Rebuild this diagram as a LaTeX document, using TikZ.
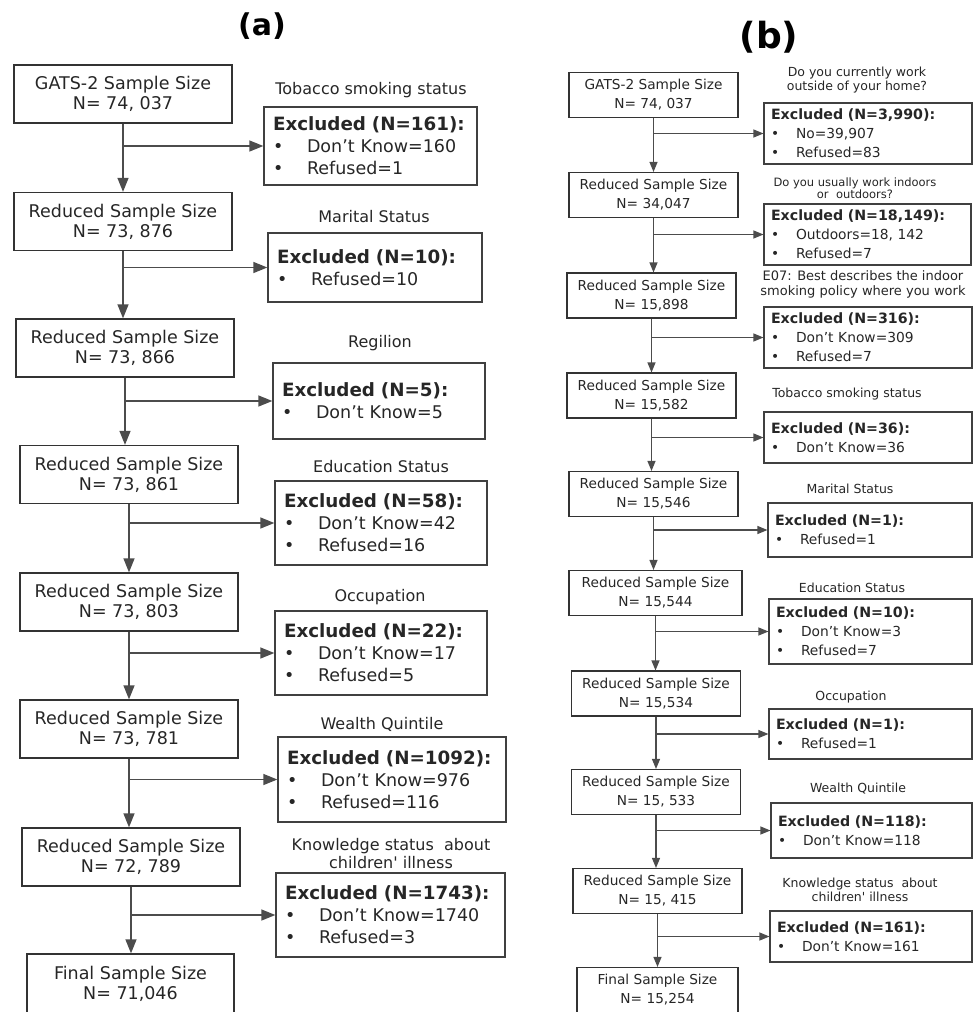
\documentclass[tikz,border=0pt]{standalone}
\usepackage{fontspec}
\setmainfont{DejaVu Sans}
\usetikzlibrary{arrows.meta}

\newcommand{\exheadA}[1]{{\fontsize{18.3}{22}\selectfont\bfseries #1}}
\newcommand{\exheadB}[1]{{\fontsize{14.2}{19}\selectfont\bfseries #1}}

\begin{document}
\begin{tikzpicture}[x=1pt, y=-1pt,
    mainA/.style={draw=black!80, line width=1.3pt, text=black!85, align=center, inner sep=0pt,
      minimum width=218pt, minimum height=58pt, font=\fontsize{17.5}{20}\selectfont},
    exclA/.style={draw=black!75, line width=1.3pt, text=black!85, align=left, inner xsep=9pt, inner ysep=0pt,
      font=\fontsize{17.5}{22}\selectfont},
    noteA/.style={text=black!85, align=center, inner sep=0pt, font=\fontsize{16}{18}\selectfont},
    arrA/.style={draw=black!70, line width=1.3pt, -{Triangle[length=14pt,width=11pt]}},
    mainB/.style={draw=black!80, line width=1.1pt, text=black!85, align=center, inner sep=0pt,
      minimum width=169pt, minimum height=45pt, font=\fontsize{13.7}{19}\selectfont},
    exclB/.style={draw=black!75, line width=1.1pt, text=black!85, align=left, inner xsep=7pt, inner ysep=0pt,
      font=\fontsize{13.8}{19}\selectfont},
    noteB/.style={text=black!85, align=center, inner sep=0pt, font=\fontsize{12.5}{14}\selectfont},
    arrB/.style={draw=black!70, line width=1.1pt, -{Triangle[length=10pt,width=8pt]}}]
  \useasboundingbox (0,0) rectangle (973,1012);

  \node (ta) at (262,26) [font=\fontsize{30}{30}\selectfont\bfseries] {(a)};
  \node (tb) at (769,37) [font=\fontsize{36}{36}\selectfont\bfseries] {(b)};

  % (a)
  \node (a1) [mainA] at (123,94) {GATS-2 Sample Size\\N= 74, 037};
  \node (a2) [mainA] at (123,221.5) {Reduced Sample Size\\N= 73, 876};
  \node (a3) [mainA] at (125,348) {Reduced Sample Size\\N= 73, 866};
  \node (a4) [mainA] at (129,474.5) {Reduced Sample Size\\N= 73, 861};
  \node (a5) [mainA] at (129,602) {Reduced Sample Size\\N= 73, 803};
  \node (a6) [mainA] at (129,729) {Reduced Sample Size\\N= 73, 781};
  \node (a7) [mainA] at (131,857) {Reduced Sample Size\\N= 72, 789};
  \node (a8) [mainA, minimum width=207pt, minimum height=60pt] at (130.5,984) {Final Sample Size\\N= 71,046};

  \node (la1) [noteA] at (371,90) {Tobacco smoking status};
  \node (la2) [noteA] at (374,217) {Marital Status};
  \node (la3) [noteA] at (380,343) {Regilion};
  \node (la4) [noteA] at (381,467) {Education Status};
  \node (la5) [noteA] at (380,597) {Occupation};
  \node (la6) [noteA] at (382,724) {Wealth Quintile};
  \node (la7) [noteA] at (391,854) {Knowledge status\ \ about\\children\textquotesingle{} illness};

  \node (ea1) [exclA, text width=195pt, minimum height=78pt] at (370.5,146)
    {\exheadA{Excluded (N=161):}\\\makebox[34pt][l]{•}Don’t Know=160\\\makebox[34pt][l]{•}Refused=1};
  \node (ea2) [exclA, text width=196pt, minimum height=69pt] at (375,267.5)
    {\exheadA{Excluded (N=10):}\\\makebox[34pt][l]{•}Refused=10};
  \node (ea3) [exclA, text width=194pt, minimum height=76pt] at (379,401)
    {\exheadA{Excluded (N=5):}\\\makebox[34pt][l]{•}Don’t Know=5};
  \node (ea4) [exclA, text width=194pt, minimum height=84pt] at (381,523)
    {\exheadA{Excluded (N=58):}\\\makebox[34pt][l]{•}Don’t Know=42\\\makebox[34pt][l]{•}Refused=16};
  \node (ea5) [exclA, text width=194pt, minimum height=84pt] at (381,653)
    {\exheadA{Excluded (N=22):}\\\makebox[34pt][l]{•}Don’t Know=17\\\makebox[34pt][l]{•}Refused=5};
  \node (ea6) [exclA, text width=210pt, minimum height=85pt] at (392,779.5)
    {\exheadA{Excluded (N=1092):}\\\makebox[34pt][l]{•}Don’t Know=976\\\makebox[34pt][l]{•}Refused=116};
  \node (ea7) [exclA, text width=211pt, minimum height=84pt] at (390.5,915)
    {\exheadA{Excluded (N=1743):}\\\makebox[34pt][l]{•}Don’t Know=1740\\\makebox[34pt][l]{•}Refused=3};

  \foreach \i/\j in {1/2,2/3,3/4,4/5,5/6,6/7,7/8} {
    \draw[arrA] (a\i.south) -- (a\i.south |- a\j.north);
    \draw[arrA] (a\i.south |- ea\i.west) -- (ea\i.west);
  }

  % (b)
  \node (b1) [mainB] at (653.5,95) {GATS-2 Sample Size\\N= 74, 037};
  \node (b2) [mainB] at (653.5,195) {Reduced Sample Size\\N= 34,047};
  \node (b3) [mainB] at (651.5,295.5) {Reduced Sample Size\\N= 15,898};
  \node (b4) [mainB] at (651.5,395.5) {Reduced Sample Size\\N= 15,582};
  \node (b5) [mainB] at (653.5,494) {Reduced Sample Size\\N= 15,546};
  \node (b6) [mainB, minimum width=173pt] at (655.5,593) {Reduced Sample Size\\N= 15,544};
  \node (b7) [mainB] at (656,693.5) {Reduced Sample Size\\N= 15,534};
  \node (b8) [mainB] at (656,792) {Reduced Sample Size\\N= 15, 533};
  \node (b9) [mainB] at (657.5,891) {Reduced Sample Size\\N= 15, 415};
  \node (b10) [mainB, minimum width=161pt] at (657.5,990) {Final Sample Size\\N= 15,254};

  \node (lb1) [noteB] at (857,80) {Do you currently work\\outside of your home?};
  \node (lb2) [noteB, font=\fontsize{11.5}{12.5}\selectfont] at (855,188) {Do you usually work indoors\\or\ \ outdoors?};
  \node (lb3) [noteB, font=\fontsize{13}{15}\selectfont] at (863,284.5) {E07: Best describes the indoor\\smoking policy where you work};
  \node (lb4) [noteB] at (847,394) {Tobacco smoking status};
  \node (lb5) [noteB] at (850,489) {Marital Status};
  \node (lb6) [noteB] at (852,588) {Education Status};
  \node (lb7) [noteB] at (851,697) {Occupation};
  \node (lb8) [noteB] at (858,789) {Wealth Quintile};
  \node (lb9) [noteB] at (860,890) {Knowledge status\ \ about\\children\textquotesingle{} illness};

  \node (eb1) [exclB, text width=194pt, minimum height=61pt] at (868,133.5)
    {\exheadB{Excluded (N=3,990):}\\\makebox[25pt][l]{•}No=39,907\\\makebox[25pt][l]{•}Refused=83};
  \node (eb2) [exclB, text width=193pt, minimum height=61pt] at (867.5,234.5)
    {\exheadB{Excluded (N=18,149):}\\\makebox[25pt][l]{•}Outdoors=18, 142\\\makebox[25pt][l]{•}Refused=7};
  \node (eb3) [exclB, text width=194pt, minimum height=61pt] at (868,337.5)
    {\exheadB{Excluded (N=316):}\\\makebox[25pt][l]{•}Don’t Know=309\\\makebox[25pt][l]{•}Refused=7};
  \node (eb4) [exclB, text width=194pt, minimum height=51pt] at (868,437.5)
    {\exheadB{Excluded (N=36):}\\\makebox[25pt][l]{•}Don’t Know=36};
  \node (eb5) [exclB, text width=190pt, minimum height=54pt] at (870,530)
    {\exheadB{Excluded (N=1):}\\\makebox[25pt][l]{•}Refused=1};
  \node (eb6) [exclB, text width=189pt, minimum height=65pt] at (870.5,631.5)
    {\exheadB{Excluded (N=10):}\\\makebox[25pt][l]{•}Don’t Know=3\\\makebox[25pt][l]{•}Refused=7};
  \node (eb7) [exclB, text width=189pt, minimum height=50pt] at (870.5,734)
    {\exheadB{Excluded (N=1):}\\\makebox[25pt][l]{•}Refused=1};
  \node (eb8) [exclB, text width=187pt, minimum height=55pt] at (871.5,830.5)
    {\exheadB{Excluded (N=118):}\\\makebox[25pt][l]{•}Don’t Know=118};
  \node (eb9) [exclB, text width=188pt, minimum height=51pt] at (871,936.5)
    {\exheadB{Excluded (N=161):}\\\makebox[25pt][l]{•}Don’t Know=161};

  \foreach \i/\j in {1/2,2/3,3/4,4/5,5/6,6/7,7/8,8/9,9/10} {
    \draw[arrB] (b\i.south) -- (b\i.south |- b\j.north);
    \draw[arrB] (b\i.south |- eb\i.west) -- (eb\i.west);
  }
\end{tikzpicture}
\end{document}
